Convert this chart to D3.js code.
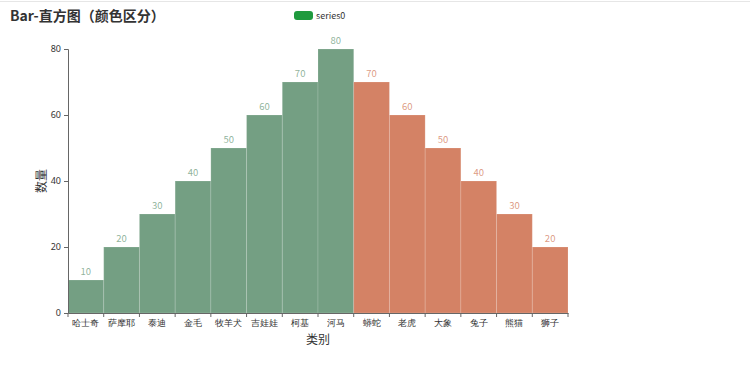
<!DOCTYPE html>
<html><head><meta charset="utf-8">
<script src="https://cdn.jsdelivr.net/npm/d3@7"></script>
<style>body{margin:0;background:#fff;font-family:"Noto Sans CJK SC","Noto Sans",sans-serif;}</style>
</head><body>
<svg id="c" width="750" height="373"></svg>
<script>
const categories = ["哈士奇","萨摩耶","泰迪","金毛","牧羊犬","吉娃娃","柯基","河马","蟒蛇","老虎","大象","兔子","熊猫","狮子"];
const values = [10,20,30,40,50,60,70,80,70,60,50,40,30,20];
const groups = ["g","g","g","g","g","g","g","g","o","o","o","o","o","o"];
const yTicks = [0,20,40,60,80];
const colorMap = {g:"#749f83", o:"#d48265"};

const svg = d3.select("#c");
const m = {l:68, r:568, t:49, b:313};
const x = d3.scaleBand().domain(categories).range([m.l, m.r]).padding(0);
const y = d3.scaleLinear().domain([0,80]).range([m.b, m.t]);

svg.append("line").attr("x1",0).attr("x2",750).attr("y1",1.5).attr("y2",1.5).attr("stroke","#e6e6e6");

svg.append("text").attr("x",10).attr("y",21).attr("font-size",14).attr("font-weight","bold").attr("fill","#333").text("Bar-直方图（颜色区分）");
svg.append("rect").attr("x",294).attr("y",11).attr("width",19).attr("height",9).attr("rx",3).attr("fill","#1f9a3e");
svg.append("text").attr("x",316).attr("y",19).attr("font-size",9).attr("fill","#333").text("series0");

svg.selectAll(".bar").data(values).join("rect")
  .attr("x",(d,i)=>x(categories[i])).attr("y",d=>y(d))
  .attr("width",x.bandwidth()).attr("height",d=>y(0)-y(d))
  .attr("fill",(d,i)=>colorMap[groups[i]])
  .attr("stroke","rgba(255,255,255,0.15)").attr("stroke-width",1);

svg.selectAll(".lbl").data(values).join("text")
  .attr("x",(d,i)=>x(categories[i])+x.bandwidth()/2).attr("y",d=>y(d)-5)
  .attr("text-anchor","middle").attr("font-size",9.5)
  .attr("fill",(d,i)=>colorMap[groups[i]]).attr("fill-opacity",0.8).text(d=>d);

const ya = svg.append("g").attr("transform",`translate(${m.l},0)`)
  .call(d3.axisLeft(y).tickValues(yTicks).tickSize(4).tickPadding(3));
ya.select(".domain").attr("stroke","#666");
ya.selectAll(".tick line").attr("stroke","#666");
ya.selectAll("text").attr("font-size",9).attr("fill","#333").attr("font-family","Noto Sans, sans-serif");

const xa = svg.append("g").attr("transform",`translate(0,${m.b})`)
  .call(d3.axisBottom(x).tickSize(0).tickPadding(7));
xa.select(".domain").attr("stroke","#666");
xa.selectAll("text").attr("font-size",9).attr("fill","#333");
const bounds = categories.map(c=>x(c)).concat([m.r]);
xa.selectAll(".btick").data(bounds).join("line").attr("class","btick")
  .attr("x1",d=>d).attr("x2",d=>d).attr("y1",0).attr("y2",4).attr("stroke","#666");

svg.append("text").attr("x",318).attr("y",344).attr("text-anchor","middle").attr("font-size",12).attr("fill","#333").text("类别");
svg.append("text").attr("transform","translate(46,181) rotate(-90)").attr("text-anchor","middle").attr("font-size",12).attr("fill","#333").text("数量");
</script>
</body></html>
